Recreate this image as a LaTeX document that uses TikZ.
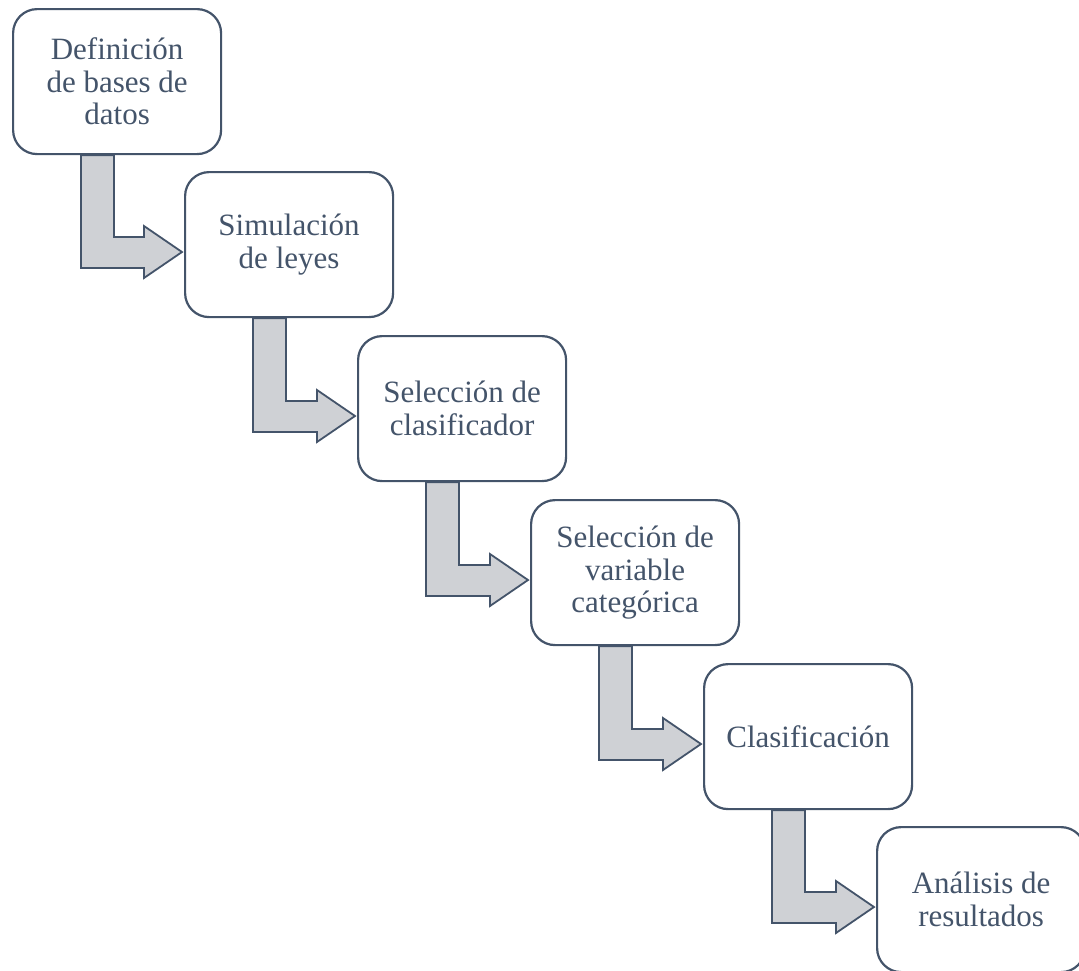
\documentclass[tikz,border=0pt]{standalone}
\usepackage{fontspec}
\setmainfont{Liberation Serif}
\newfontfamily\boxfont{Liberation Serif}
\usetikzlibrary{calc,backgrounds}
\definecolor{edgec}{HTML}{44546A}
\definecolor{arrowfill}{HTML}{CFD1D5}
\tikzset{
  stepbox/.style={draw=edgec, line width=2.2pt, fill=white, rounded corners=24pt,
    minimum width=208pt, minimum height=145pt, inner sep=0pt, anchor=north west,
    align=center, text=edgec, font=\boxfont\fontsize{31}{32.5}\selectfont},
  bentarrow/.style={draw=edgec, line width=1.8pt, fill=arrowfill, line join=miter}
}
\newcommand{\bentarr}[2]{%
  \coordinate (sa) at ($(#1.south west)+(69,0)$);
  \coordinate (sb) at ($(#1.south west)+(102,0)$);
  \coordinate (ta) at ($(#2.north west)+(0,66)$);
  \coordinate (tb) at ($(#2.north west)+(0,97)$);
  \draw[bentarrow]
    (sa) -- (sb) -- (sb |- ta)
    -- ($(#2.north west)+(-40,66)$) -- ($(#2.north west)+(-40,55)$)
    -- ($(#2.north west)+(-2,81)$) -- ($(#2.north west)+(-40,107)$)
    -- ($(#2.north west)+(-40,97)$)
    -- (sa |- tb) -- cycle;}
\begin{document}
\begin{tikzpicture}[x=1pt,y=-1pt]
\useasboundingbox (0,0) rectangle (1079,970);
\clip (0,0) rectangle (1079,970);
\node[stepbox] (b1) at (12,8) {Definición\\de bases de\\datos};
\node[stepbox] (b2) at (184,171) {Simulación\\de leyes};
\node[stepbox] (b3) at (357,335) {Selección de\\clasificador};
\node[stepbox] (b4) at (530,499) {Selección de\\variable\\categórica};
\node[stepbox] (b5) at (703,663) {Clasificación};
\node[stepbox] (b6) at (876,826) {Análisis de\\resultados};
\begin{scope}[on background layer]
\bentarr{b1}{b2}
\bentarr{b2}{b3}
\bentarr{b3}{b4}
\bentarr{b4}{b5}
\bentarr{b5}{b6}
\end{scope}
\end{tikzpicture}
\end{document}
